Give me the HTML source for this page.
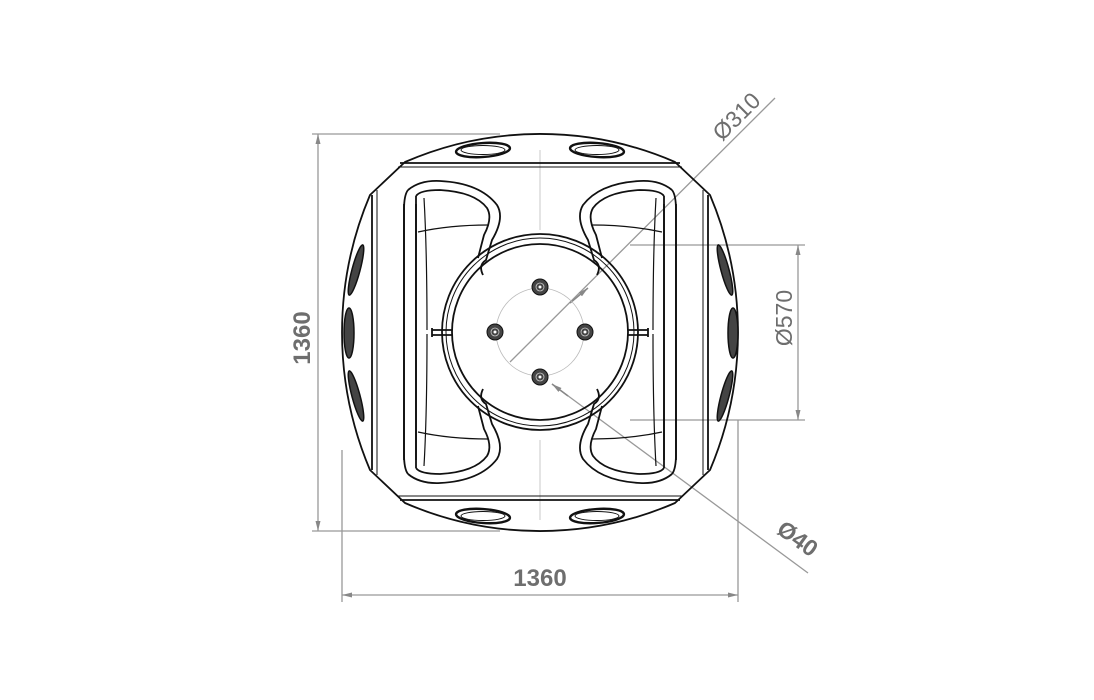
<!DOCTYPE html>
<html><head><meta charset="utf-8"><style>
html,body{margin:0;padding:0;background:#fff;width:1094px;height:700px;overflow:hidden}
svg{display:block}
text{font-family:"Liberation Sans",sans-serif;fill:#6e6e6e;font-weight:bold}
</style></head><body>
<svg width="1094" height="700" viewBox="0 0 1094 700" xmlns="http://www.w3.org/2000/svg">
<defs>
<marker id="a" markerWidth="10" markerHeight="6" refX="10" refY="3" orient="auto-start-reverse" markerUnits="userSpaceOnUse"><path d="M0,0.5 L10,3 L0,5.5 Z" fill="#888"/></marker>
</defs>
<g stroke="#999" stroke-width="1.3" fill="none">
 <line x1="312" y1="134" x2="500" y2="134"/>
 <line x1="312" y1="531" x2="500" y2="531"/>
 <line x1="318" y1="134" x2="318" y2="531" marker-start="url(#a)" marker-end="url(#a)"/>
 <line x1="342" y1="450" x2="342" y2="602"/>
 <line x1="738" y1="420" x2="738" y2="602"/>
 <line x1="342" y1="595" x2="738" y2="595" marker-start="url(#a)" marker-end="url(#a)"/>
 <line x1="630" y1="245" x2="805" y2="245"/>
 <line x1="630" y1="420" x2="805" y2="420"/>
 <line x1="798" y1="245" x2="798" y2="420" marker-start="url(#a)" marker-end="url(#a)"/>
 <line x1="510" y1="362" x2="775" y2="98"/>
 <line x1="552" y1="384" x2="808" y2="573"/>
 <line x1="540" y1="150" x2="540" y2="230" stroke="#bbb" stroke-width="0.8"/>
 <line x1="540" y1="440" x2="540" y2="520" stroke="#bbb" stroke-width="0.8"/>
</g>
<line x1="570" y1="303" x2="588" y2="288" stroke="#888" stroke-width="1.5" marker-end="url(#a)"/>
<line x1="568" y1="396" x2="552" y2="384" stroke="#888" stroke-width="1.5" marker-end="url(#a)"/>

<g stroke="#111" stroke-width="1.8" fill="none">
 <path d="M370,195 L405,162 A339,339 0 0 1 675,162 L710,195 A352,352 0 0 1 710,470 L675,503 A339,339 0 0 1 405,503 L370,470 A352,352 0 0 1 370,195 Z"/>
 <line x1="372" y1="195" x2="372" y2="470"/><line x1="377" y1="190" x2="377" y2="475" stroke-width="1"/>
 <line x1="708" y1="195" x2="708" y2="470"/><line x1="703" y1="190" x2="703" y2="475" stroke-width="1"/>
 <line x1="400" y1="163" x2="680" y2="163"/><line x1="398" y1="167" x2="682" y2="167" stroke-width="1"/>
 <line x1="400" y1="500" x2="680" y2="500"/><line x1="398" y1="496" x2="682" y2="496" stroke-width="1"/>
 <circle cx="540" cy="332" r="98"/>
 <circle cx="540" cy="332" r="94" stroke-width="1"/>
 <circle cx="540" cy="332" r="88"/>
 <path d="M432,330 h20 M432,335 h20 M432,328 v9"/>
 <path d="M628,330 h20 M628,335 h20 M648,328 v9"/>
 <g id="p">
  <path d="M408,190 Q420,180 440,181 Q480,183 497,205 Q505,218 492,240 L486,260 Q478,265 483,275"/>
  <path d="M408,190 Q404,195 404,210 L404,460"/>
  <path d="M416,196 Q420,190 440,190 Q475,192 487,208 Q493,218 484,235 L478,258"/>
  <path d="M416,196 L416,460"/>
  <path d="M424,198 Q427,250 427,330" stroke-width="1.2"/>
  <path d="M418,232 Q450,225 488,225" stroke-width="1.2"/>
 </g>
 <use href="#p" transform="translate(1080,0) scale(-1,1)"/>
 <use href="#p" transform="translate(0,664) scale(1,-1)"/>
 <use href="#p" transform="translate(1080,664) scale(-1,-1)"/>
 <g stroke-width="2.4">
 <ellipse cx="483" cy="150" rx="27" ry="7" transform="rotate(-4 483 150)"/>
 <ellipse cx="597" cy="150" rx="27" ry="7" transform="rotate(4 597 150)"/>
 <ellipse cx="483" cy="516" rx="27" ry="7" transform="rotate(4 483 516)"/>
 <ellipse cx="597" cy="516" rx="27" ry="7" transform="rotate(-4 597 516)"/>
 </g>
 <g stroke-width="1">
 <ellipse cx="483" cy="150" rx="22" ry="4.5"/><ellipse cx="597" cy="150" rx="22" ry="4.5"/>
 <ellipse cx="483" cy="516" rx="22" ry="4.5"/><ellipse cx="597" cy="516" rx="22" ry="4.5"/>
 </g>
</g>
<g fill="#444" stroke="#111" stroke-width="1.5">
 <ellipse cx="349" cy="333" rx="5" ry="25"/>
 <ellipse cx="356" cy="270" rx="4" ry="26" transform="rotate(15 356 270)"/>
 <ellipse cx="356" cy="396" rx="4" ry="26" transform="rotate(-15 356 396)"/>
 <ellipse cx="733" cy="333" rx="5" ry="25"/>
 <ellipse cx="725" cy="270" rx="4" ry="26" transform="rotate(-15 725 270)"/>
 <ellipse cx="725" cy="396" rx="4" ry="26" transform="rotate(15 725 396)"/>
</g>
<circle cx="540" cy="332" r="44" fill="none" stroke="#bbb" stroke-width="0.8"/>
<g fill="#444" stroke="#111">
 <circle cx="540" cy="287" r="8"/><circle cx="495" cy="332" r="8"/><circle cx="585" cy="332" r="8"/><circle cx="540" cy="377" r="8"/>
</g>
<g fill="none" stroke="#ccc" stroke-width="0.8">
 <circle cx="540" cy="287" r="4"/><circle cx="495" cy="332" r="4"/><circle cx="585" cy="332" r="4"/><circle cx="540" cy="377" r="4"/>
</g>
<g fill="#fff"><circle cx="540" cy="287" r="1.5"/><circle cx="495" cy="332" r="1.5"/><circle cx="585" cy="332" r="1.5"/><circle cx="540" cy="377" r="1.5"/></g>

<text x="540" y="586" font-size="24" text-anchor="middle">1360</text>
<text transform="translate(310,338) rotate(-90)" font-size="24" text-anchor="middle">1360</text>
<text transform="translate(792,318) rotate(-90)" font-size="23" text-anchor="middle" style="font-weight:normal">Ø570</text>
<text transform="translate(742,122) rotate(-45)" font-size="23" text-anchor="middle" style="font-weight:normal">Ø310</text>
<text transform="translate(793,545) rotate(36)" font-size="23" text-anchor="middle">Ø40</text>
</svg>
</body></html>
